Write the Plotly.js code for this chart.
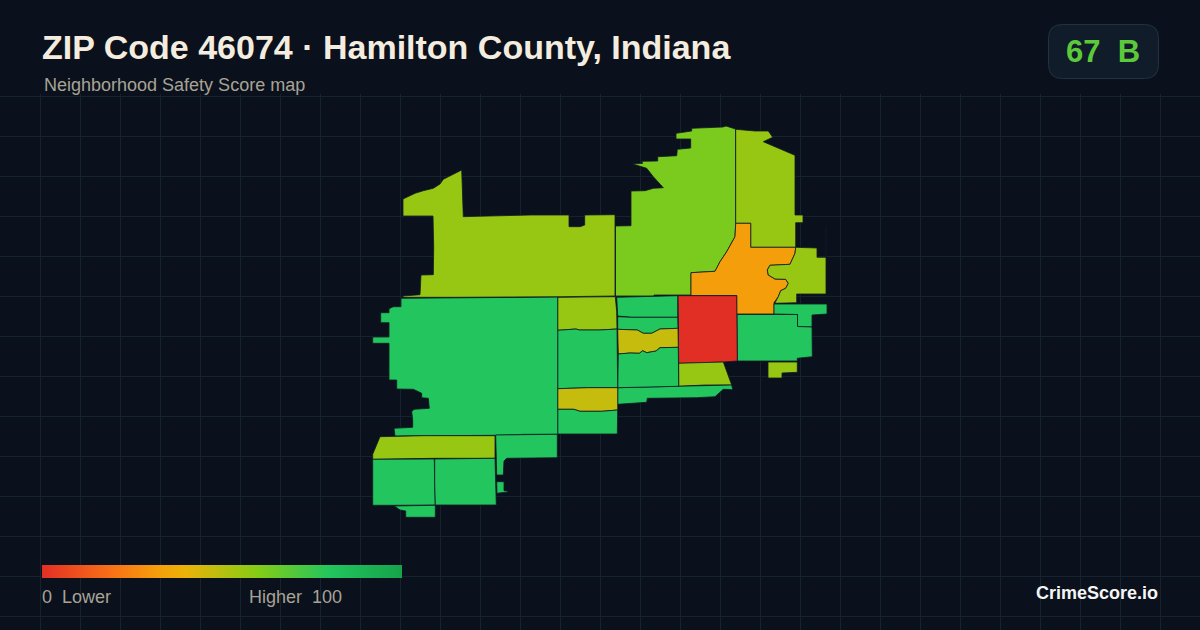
<!DOCTYPE html>
<html><head><meta charset="utf-8">
<script src="https://cdn.plot.ly/plotly-3.0.1.min.js"></script>
<style>html,body{margin:0;padding:0;background:#0a111c}#c{width:1200px;height:630px}</style>
</head><body><div id="c"></div>
<script>
const titleText = "ZIP Code 46074 · Hamilton County, Indiana";
const subtitleText = "Neighborhood Safety Score map";
const overallScore = "67";
const overallGrade = "B";
const brandText = "CrimeScore.io";
const legendLow = "0\u00a0\u00a0Lower";
const legendHigh = "Higher\u00a0\u00a0100";
const scaleStops = [0, 20, 32, 40, 60, 80, 100];
const scaleColors = ["#e22f26", "#f97316", "#f59e0b", "#eab308", "#84cc16", "#22c55e", "#16a34a"];

// Tract scores and outlines, in map units
const tractScores = [62, 56, 32, 56, 80, 80, 56, 0, 56, 80, 80, 80, 47, 80, 56, 80, 47, 80, 80, 56, 56, 80, 80, 80, 80, 80];
const tractRings = [
 [[735.5,129],[726,126],[723,127],[691.7,128.3],[691.7,131],[676,133.3],[676,139],[690.7,139],[690.7,148],[677.3,149.3],[676.7,155.7],[657.7,156.7],[657.7,161],[641.7,161.3],[642.7,163.3],[632.7,164],[646.7,168.3],[653.3,176.7],[663.3,187.7],[653.3,188.3],[645,190.7],[631,191],[631,225.7],[615.5,226],[615.5,296],[654,296],[654,295],[691,295],[691,272.7],[715,271.3],[720,261.7],[726.7,251.7],[735,236.7],[735.7,223.3]],
 [[735.7,129.3],[755,131],[768.3,131],[772.7,137.3],[763.3,141.7],[795,155.3],[795,215],[803,215],[803,222.7],[795.7,222.7],[795.7,247.3],[750.7,247.3],[750.7,223.3],[735.7,223.3]],
 [[735.7,223.3],[750.7,223.3],[750.7,247.3],[795.7,247.3],[795,253.3],[790,264.3],[770,265.3],[767.3,270],[768.3,275],[775,279],[785.7,279.3],[788.3,283.3],[785.7,288.3],[780.7,290.7],[778.3,296.7],[774,302.7],[774,314],[736.7,314],[736.7,295.5],[691,295.5],[691,272.7],[715,271.3],[720,261.7],[726.7,251.7],[735,236.7]],
 [[795.7,247.3],[817,248],[817,257.3],[826,257.3],[826,226],[826,257.3],[826,294],[796.7,294],[796.7,302.7],[774.7,303.3],[778.3,296.7],[780.7,290.7],[785.7,288.3],[788.3,283.3],[785.7,279.3],[775,279],[768.3,275],[767.3,270],[770,265.3],[790,264.3],[795,253.3]],
 [[774,304],[827,304],[827,314],[812,315],[812,327],[797.5,326.5],[797.5,314.5],[774,314]],
 [[737,314.5],[797.5,314.5],[797.5,326.5],[812,327],[812.3,356.7],[797.3,358.3],[797.3,361],[737.3,361]],
 [[768,362],[797.3,362],[797.3,372.3],[782,373],[782,378],[768,378]],
 [[678,295.7],[736.7,295.7],[737.3,361],[723.3,362],[693.3,363],[678.7,363.3]],
 [[678.7,363.3],[693.3,363],[723.3,362],[731.7,385],[705,385],[678.7,386.3]],
 [[617.7,387.7],[678.7,386.3],[705,385],[731.7,385],[732.7,389.7],[723.3,389.3],[715,396.7],[696.7,397.7],[647.3,398.3],[646.7,402.3],[617.7,404.3]],
 [[616.7,297.3],[654,296],[677.7,295.7],[677.7,317.3],[631.7,317.3],[617.7,316]],
 [[617.7,316.7],[631.7,317.3],[677.7,317.3],[678,328.3],[660,329],[651.7,333.3],[643.3,333.3],[637.3,330],[617.7,329.3]],
 [[617.7,329.3],[637.3,330],[643.3,333.3],[651.7,333.3],[660,329],[678,328.3],[678.3,347.3],[660,347.7],[656,351],[646.7,352.7],[642.7,350.7],[639.3,353.3],[630,353],[618.3,354]],
 [[618.3,354],[630,353],[639.3,353.3],[642.7,350.7],[646.7,352.7],[656,351],[660,347.7],[678.3,347.3],[678.7,386.3],[617.7,387.7]],
 [[557.7,297.3],[615.3,296.7],[616.7,311.7],[617,329],[600,330],[579.3,330],[576,329],[557.7,330.3]],
 [[557.7,330.3],[576,329],[579.3,330],[600,330],[617,329],[617.7,387.7],[588.3,387.7],[557.7,388.7]],
 [[557.7,388.7],[588.3,387.7],[617.7,387.7],[617.7,410],[601.7,411.3],[580,411.3],[574,409.3],[557.7,409.3]],
 [[557.7,409.3],[574,409.3],[580,411.3],[601.7,411.3],[617.7,410],[617.3,434],[557.7,434]],
 [[401,298.3],[454.3,297.7],[557.7,297],[557.7,434.3],[525,434.3],[495,435.3],[424.3,435.7],[395,436],[394,428.3],[412.7,427.3],[412.7,420],[411.7,411.7],[414,409.3],[429.3,408.3],[428.3,398.3],[421.7,397.7],[421.7,393.3],[413.3,389.3],[396.7,389],[396.7,380],[389,380],[389,343.3],[372.7,343.3],[372.7,337],[389,337],[389,322.7],[380.7,322.7],[380.7,312.7],[389,312.7],[389,308.7],[393.3,306.7],[401,306.7]],
 [[403,199],[415,193.3],[423.3,190.7],[433.3,188.3],[440,184],[443.3,179.3],[461.7,170],[462.3,193.3],[463.3,216.7],[477.7,216.3],[531,215],[569,215],[569,226.7],[580,226.7],[584.7,225],[584.7,215],[615,214.7],[615,296],[561.7,296.7],[454.3,297.3],[403,297.3],[403,296],[420,294.7],[421,275],[433.3,274.7],[433.7,246.7],[433,216],[403,216]],
 [[380,436.7],[424.3,435.7],[495,435.7],[495,458.3],[434.3,458.3],[372.7,459.3],[372.7,454.3],[376,446.7]],
 [[495.7,435],[525,435],[557.3,434.3],[557.3,457.7],[506.7,458.3],[504,461],[503.3,475],[496.7,475],[496,458.3]],
 [[496.7,481.7],[504,481.7],[504,490.7],[507.7,491],[507.7,492],[500,492.7],[497,493.3]],
 [[372.7,459.3],[434.3,459],[434.7,483.3],[435.3,505],[394.3,505.3],[372.7,505.3]],
 [[394.3,506],[435.3,505.3],[435.3,517.3],[405.7,517.3],[405.7,511],[400,510]],
 [[434.7,459],[465,458.3],[495,458.3],[496.3,505],[435.3,505],[434.7,483.3]]
];

function hexToRgb(h){return [1,3,5].map(i=>parseInt(h.slice(i,i+2),16));}
function colorFor(v){
  let i=0; while(i<scaleStops.length-2 && v>scaleStops[i+1]) i++;
  const t=(v-scaleStops[i])/(scaleStops[i+1]-scaleStops[i]);
  const a=hexToRgb(scaleColors[i]), b=hexToRgb(scaleColors[i+1]);
  return "rgb("+a.map((c,k)=>Math.round(c+(b[k]-c)*t)).join(",")+")";
}
const W=1200,H=630;
const px=x=>x/W, py=y=>1-y/H;
const FONT='"Liberation Sans", Arial, sans-serif';

const traces = tractRings.map((ring,i)=>{
  const xs=ring.map(p=>p[0]).concat(ring[0][0]);
  const ys=ring.map(p=>p[1]).concat(ring[0][1]);
  return {type:"scatter",mode:"lines",x:xs,y:ys,fill:"toself",fillcolor:colorFor(tractScores[i]),
    line:{color:"#0f1b25",width:0.8},hoverinfo:"skip",showlegend:false};
});
traces.push({type:"scatter",mode:"markers",x:tractScores.map(()=>null),y:tractScores.map(()=>null),hoverinfo:"skip",showlegend:false,
  marker:{color:tractScores,cmin:0,cmax:100,
    colorscale:scaleStops.map((s,i)=>[s/100,scaleColors[i]]),showscale:true,
    colorbar:{orientation:"h",x:px(42),xanchor:"left",y:py(565),yanchor:"top",len:360,lenmode:"pixels",
      thickness:13,thicknessmode:"pixels",xpad:0,ypad:0,outlinewidth:0,borderwidth:0,showticklabels:false,ticks:"",bgcolor:"rgba(0,0,0,0)"}}});

function note(text,x,y,size,color,anchor,bold){
  return {text:bold?"<b>"+text+"</b>":text,xref:"paper",yref:"paper",x:px(x),y:py(y),xanchor:anchor||"left",yanchor:"middle",
    showarrow:false,font:{family:FONT,size:size,color:color},borderpad:0,borderwidth:0};
}
const bx0=1048.5,bx1=1158.5,by0=24.5,by1=78.5,r=14;
const badge=`M ${px(bx0+r)} ${py(by0)} L ${px(bx1-r)} ${py(by0)} Q ${px(bx1)} ${py(by0)} ${px(bx1)} ${py(by0+r)} L ${px(bx1)} ${py(by1-r)} Q ${px(bx1)} ${py(by1)} ${px(bx1-r)} ${py(by1)} L ${px(bx0+r)} ${py(by1)} Q ${px(bx0)} ${py(by1)} ${px(bx0)} ${py(by1-r)} L ${px(bx0)} ${py(by0+r)} Q ${px(bx0)} ${py(by0)} ${px(bx0+r)} ${py(by0)} Z`;

const layout={width:W,height:H,margin:{l:0,r:0,t:0,b:0,pad:0},paper_bgcolor:"#0a111c",plot_bgcolor:"#0a111c",showlegend:false,
  xaxis:{domain:[0,1],range:[0,1200],tick0:0,dtick:40,showgrid:true,gridcolor:"#15232f",gridwidth:1,zeroline:false,showticklabels:false,ticks:"",showline:false,fixedrange:true},
  yaxis:{domain:[0,536/630],range:[630,94],tick0:96,dtick:40,showgrid:true,gridcolor:"#15232f",gridwidth:1,zeroline:false,showticklabels:false,ticks:"",showline:false,fixedrange:true},
  shapes:[{type:"path",xref:"paper",yref:"paper",path:badge,fillcolor:"#111c2a",line:{color:"#253140",width:1},layer:"below"}],
  annotations:[
    note(titleText,42,47,34,"#f4ecdf","left",true),
    note(subtitleText,44,85,18,"#a8a396"),
    note(overallScore+"\u00a0\u00a0"+overallGrade,1103,51,31,"#5cc93a","center",true),
    note(legendLow,42,597,18,"#a8a396"),
    note(legendHigh,249,597,18,"#a8a396"),
    note(brandText,1158,593,18,"#f5f5f5","right",true)
  ]};
Plotly.newPlot("c",traces,layout,{displayModeBar:false,staticPlot:true});
</script></body></html>
